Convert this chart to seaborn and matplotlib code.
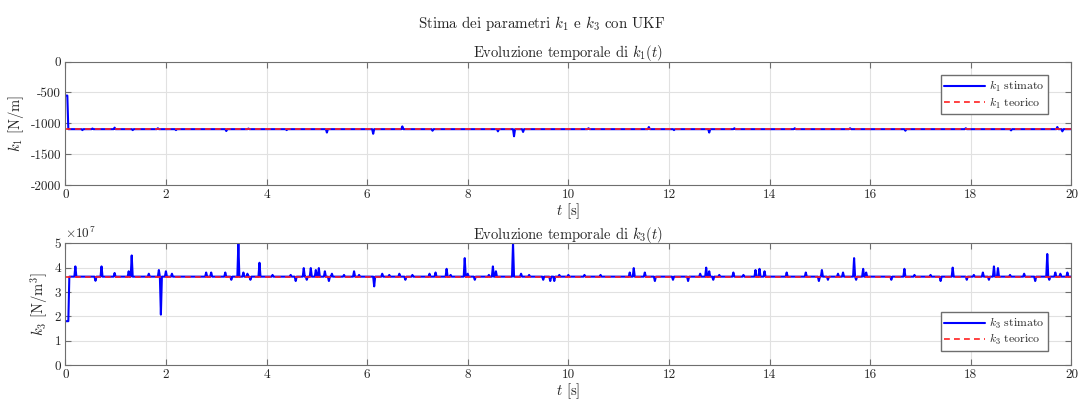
import numpy as np
import pandas as pd
import matplotlib
matplotlib.use("Agg")
import matplotlib.pyplot as plt
import seaborn as sns

# ---- simulation horizon ----
t_end = 20.0
dt = 0.02

# ---- k1 [N/m] ----
k1_teorico = -1100.0
k1_base = -1095.0
k1_init = -550.0
k1_init_end = 0.06
k1_evt_t = [0.35, 0.55, 0.99, 1.35, 1.85, 2.2, 3.2, 3.65, 4.4, 5.2, 6.12, 6.7,
            7.3, 8.6, 8.92, 9.1, 10.4, 11.6, 12.1, 12.8, 13.3, 14.5, 15.6,
            16.7, 17.9, 18.8, 19.72, 19.82]
k1_evt_v = [-1110, -1085, -1070, -1110, -1080, -1110, -1125, -1085, -1110, -1150,
            -1170, -1050, -1120, -1130, -1210, -1140, -1080, -1060, -1110, -1150,
            -1080, -1080, -1080, -1120, -1080, -1115, -1060, -1130]

# ---- k3 [N/m^3] (x 1e7) ----
k3_teorico = 3.60
k3_base = 3.63
k3_init = 1.80
k3_init_end = 0.07
k3_evt_t = [0.20, 0.60, 0.73, 0.99, 1.26, 1.33, 1.66, 1.86, 1.90, 2.00, 2.13,
            2.80, 2.90, 3.19, 3.29, 3.43, 3.55, 3.62, 3.69, 3.85, 4.12, 4.48,
            4.58, 4.75, 4.81, 4.88, 4.98, 5.05, 5.15, 5.25, 5.31, 5.55, 5.74,
            5.84, 6.14, 6.31, 6.44, 6.64, 6.77, 6.91, 7.24, 7.37, 7.57, 7.67,
            7.94, 8.00, 8.13, 8.43, 8.50, 8.57, 8.91, 9.06, 9.23, 9.50, 9.63,
            9.73, 9.83, 10.00, 10.33, 10.63, 11.22, 11.31, 11.52, 11.72, 12.08,
            12.38, 12.62, 12.75, 12.80, 12.88, 13.00, 13.28, 13.48, 13.71,
            13.81, 13.91, 14.34, 14.71, 14.98, 15.04, 15.17, 15.37, 15.47,
            15.68, 15.72, 15.86, 15.92, 16.43, 16.67, 16.87, 17.20, 17.40,
            17.65, 17.93, 18.06, 18.23, 18.36, 18.47, 18.53, 18.79, 19.06,
            19.29, 19.51, 19.56, 19.67, 19.78, 19.92]
k3_evt_v = [4.05, 3.46, 4.05, 3.78, 3.85, 4.50, 3.75, 3.90, 2.07, 3.85, 3.75,
            3.80, 3.80, 3.80, 3.50, 5.00, 3.80, 3.75, 3.50, 4.20, 3.70, 3.70,
            3.45, 3.98, 3.50, 3.98, 3.90, 3.98, 3.85, 3.45, 3.75, 3.70, 3.85,
            3.70, 3.23, 3.75, 3.70, 3.75, 3.50, 3.70, 3.75, 3.80, 3.95, 3.70,
            4.39, 3.75, 3.50, 3.70, 4.05, 3.85, 5.00, 3.75, 3.70, 3.50, 3.45,
            3.45, 3.70, 3.70, 3.70, 3.70, 3.80, 3.98, 3.80, 3.45, 3.50,
            3.45, 3.75, 4.00, 3.85, 3.50, 3.70, 3.80, 3.70, 3.90,
            3.95, 3.85, 3.80, 3.80, 3.45, 3.90, 3.50, 3.75, 3.80,
            4.39, 3.50, 3.95, 3.80, 3.50, 3.95, 3.70, 3.70, 3.45,
            4.00, 3.50, 3.70, 3.80, 3.50, 4.05, 3.98, 3.70, 3.75,
            3.45, 4.56, 3.50, 3.80, 3.75, 3.80]


def build_series(base, init_val, init_end, evt_t, evt_v):
    t = np.round(np.arange(0.0, t_end + dt / 2, dt), 4)
    y = np.full_like(t, base)
    y[t < init_end] = init_val
    for te, ve in zip(evt_t, evt_v):
        y[np.argmin(np.abs(t - te))] = ve
    return t, y


t1, k1_est = build_series(k1_base, k1_init, k1_init_end, k1_evt_t, k1_evt_v)
t3, k3_est = build_series(k3_base, k3_init, k3_init_end, k3_evt_t, k3_evt_v)

df1 = pd.DataFrame({"t": t1, "stimato": k1_est, "teorico": k1_teorico})
df3 = pd.DataFrame({"t": t3, "stimato": k3_est, "teorico": k3_teorico})

sns.set_style("white")
plt.rcParams.update({
    "font.family": "cmr10",
    "mathtext.fontset": "cm",
    "axes.unicode_minus": False,
    "axes.formatter.use_mathtext": False,
})

fig = plt.figure(figsize=(10.83, 4.03), dpi=100)
ax1 = fig.add_axes([0.0603, 0.541, 0.929, 0.306])
ax3 = fig.add_axes([0.0603, 0.0943, 0.929, 0.302])

edge = "#6e6e6e"
tick_col = "#262626"


def style(ax):
    ax.set_xlim(0, 20)
    ax.set_xticks(np.arange(0, 21, 2))
    ax.grid(True, color="#e1e1e1", lw=0.8)
    ax.set_axisbelow(True)
    for s in ax.spines.values():
        s.set_color(edge)
        s.set_linewidth(0.8)
        s.set_visible(True)
    ax.tick_params(direction="in", top=True, right=True, bottom=True, left=True,
                   length=4, width=0.8, color=edge, labelsize=9.5,
                   labelcolor=tick_col, pad=3)


leg_kw = dict(fontsize=8.5, frameon=True, fancybox=False, edgecolor="#6e6e6e",
              framealpha=1, handlelength=3.4, borderpad=0.3, labelspacing=0.15,
              handletextpad=0.4, borderaxespad=0.0)

# k1 panel
sns.lineplot(data=df1, x="t", y="stimato", ax=ax1, color="#0000ff", lw=1.5,
             label=r"$k_1$ stimato", estimator=None)
sns.lineplot(data=df1, x="t", y="teorico", ax=ax1, color="#ff2020", lw=1.2,
             ls=(0, (3.5, 2.5)), label=r"$k_1$ teorico", estimator=None)
style(ax1)
ax1.set_ylim(-2000, 0)
ax1.set_yticks(np.arange(-2000, 1, 500))
ax1.set_xlabel(r"$t$ [s]", fontsize=10.5, color=tick_col, labelpad=0)
ax1.set_ylabel(r"$k_1$ [N/m]", fontsize=10.5, color=tick_col, labelpad=3)
ax1.set_title(r"Evoluzione temporale di $k_1(t)$", fontsize=10.5, color=tick_col, pad=3)
ax1.legend(loc="upper right", bbox_to_anchor=(0.977, 0.89), **leg_kw)

# k3 panel
sns.lineplot(data=df3, x="t", y="stimato", ax=ax3, color="#0000ff", lw=1.5,
             label=r"$k_3$ stimato", estimator=None)
sns.lineplot(data=df3, x="t", y="teorico", ax=ax3, color="#ff2020", lw=1.2,
             ls=(0, (3.5, 2.5)), label=r"$k_3$ teorico", estimator=None)
style(ax3)
ax3.set_ylim(0, 5)
ax3.set_yticks(np.arange(0, 6, 1))
ax3.set_xlabel(r"$t$ [s]", fontsize=10.5, color=tick_col, labelpad=0)
ax3.set_ylabel(r"$k_3$ [N/m$^3$]", fontsize=10.5, color=tick_col, labelpad=3)
ax3.set_title(r"Evoluzione temporale di $k_3(t)$", fontsize=10.5, color=tick_col, pad=3)
ax3.text(0.0, 1.015, r"$\times10^{7}$", transform=ax3.transAxes, fontsize=9.5,
         color=tick_col, ha="left", va="bottom")
ax3.legend(loc="lower right", bbox_to_anchor=(0.977, 0.115), **leg_kw)

fig.suptitle(r"Stima dei parametri $k_1$ e $k_3$ con UKF", fontsize=10.8,
             color=tick_col, y=0.965)

fig.savefig("out.png", dpi=100, facecolor="white")
